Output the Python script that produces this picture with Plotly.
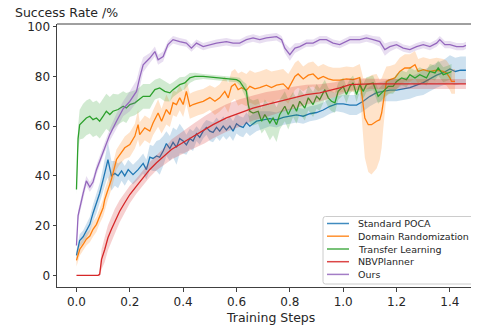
import plotly.graph_objects as go

# ---------------- data (x in units of 1e6 training steps) ----------------
series_names = ["Standard POCA", "Domain Randomization", "Transfer Learning", "NBVPlanner", "Ours"]
colors = ["#1f77b4", "#ff7f0e", "#2ca02c", "#d62728", "#9467bd"]
band_colors = ["rgba(31,119,180,0.22)", "rgba(255,127,14,0.22)", "rgba(44,160,44,0.22)",
               "rgba(214,39,40,0.22)", "rgba(148,103,189,0.22)"]

x_ticks = [0.0, 0.2, 0.4, 0.6, 0.8, 1.0, 1.2, 1.4]
x_tick_labels = ["0.0", "0.2", "0.4", "0.6", "0.8", "1.0", "1.2", "1.4"]
y_ticks = [0, 20, 40, 60, 80, 100]
y_tick_labels = ["0", "20", "40", "60", "80", "100"]

# Standard POCA
poca_x = [0.0, 0.012, 0.025, 0.037, 0.05, 0.062, 0.075, 0.087, 0.1, 0.112,
          0.118, 0.131, 0.144, 0.156, 0.169, 0.181, 0.194, 0.212, 0.231, 0.25,
          0.262, 0.275, 0.287, 0.3, 0.312, 0.325, 0.337, 0.35, 0.362, 0.375,
          0.387, 0.4, 0.412, 0.425, 0.437, 0.45, 0.462, 0.475, 0.487, 0.5,
          0.512, 0.525, 0.537, 0.55, 0.562, 0.575, 0.587, 0.6, 0.612, 0.625,
          0.637, 0.65, 0.675, 0.7, 0.725, 0.75, 0.775, 0.8, 0.825, 0.85,
          0.875, 0.9, 0.925, 0.95, 0.975, 1.0, 1.025, 1.05, 1.075, 1.1,
          1.125, 1.15, 1.175, 1.2, 1.225, 1.25, 1.275, 1.3, 1.325, 1.35,
          1.375, 1.4, 1.42, 1.44, 1.46]
poca_y = [8, 14, 15.5, 18, 20.5, 25, 29, 33, 38.5, 44,
          46.5, 40, 41, 40, 42, 40, 42.5, 40.5, 42.5, 45,
          42.5, 47.5, 47, 48, 47.5, 50, 53, 51, 53.5, 51.5,
          55, 54, 52.5, 55, 54, 57, 55.5, 58, 59.5, 58,
          57.5, 59.5, 58, 60, 58.5, 60, 58, 61, 60, 59.5,
          61.5, 60, 62, 62.5, 63, 62.5, 63.5, 64, 64.5, 64,
          65, 65.5, 66.5, 68, 69, 69, 68.5, 68.5, 70, 72,
          73.5, 74, 74.5, 74.5, 75, 75.5, 76.5, 77.5, 79, 80.5,
          81.5, 83, 82, 82.5, 82.5]
poca_s = [2, 2.5, 2.5, 3, 3, 3.5, 4, 4, 5, 6,
          7, 6, 5, 5, 4, 4, 4, 4, 4, 4,
          4, 5, 5, 6, 7, 6, 5, 5, 6, 7,
          6, 5, 4, 4, 4, 3, 3, 3, 3, 4,
          4, 4, 4, 4, 4, 4, 4, 4, 4, 4,
          4, 4, 4, 3.5, 3, 3, 3, 3, 3, 3,
          3, 3, 3, 3, 3, 3.5, 4, 4, 4, 4,
          4, 4, 4.5, 4.5, 4.5, 4.5, 4.5, 5, 5, 5,
          5, 5.5, 5.5, 5.5, 5.5]

# Domain Randomization
dr_x = [0.0, 0.0125, 0.025, 0.037, 0.05, 0.062, 0.075, 0.087, 0.1, 0.106,
        0.118, 0.131, 0.15, 0.162, 0.181, 0.2, 0.219, 0.231, 0.237, 0.256,
        0.275, 0.287, 0.306, 0.319, 0.337, 0.35, 0.362, 0.375, 0.387, 0.4,
        0.412, 0.425, 0.437, 0.456, 0.475, 0.5, 0.519, 0.537, 0.556, 0.569,
        0.581, 0.594, 0.606, 0.619, 0.637, 0.65, 0.669, 0.687, 0.712, 0.731,
        0.75, 0.775, 0.794, 0.819, 0.831, 0.85, 0.869, 0.887, 0.906, 0.925,
        0.944, 0.962, 0.987, 1.012, 1.037, 1.062, 1.069, 1.075, 1.081, 1.094,
        1.106, 1.125, 1.137, 1.144, 1.15, 1.156, 1.162, 1.175, 1.194, 1.212,
        1.231, 1.25, 1.269, 1.281, 1.3, 1.325, 1.35, 1.375, 1.387, 1.4,
        1.406, 1.419]
dr_y = [6, 10.5, 12.4, 14.5, 15.8, 18.5, 20.5, 23.8, 27.2, 30.5,
        34.5, 38.6, 46.6, 48.6, 51.3, 52.6, 56, 60.6, 56.6, 59.3,
        58, 61.3, 65.3, 62, 66.7, 64.7, 69.4, 68.7, 71.4, 68.7,
        74, 68, 68.7, 69.4, 70, 71.5, 70, 71.4, 74, 71.4,
        76, 77, 74.7, 75.5, 74.5, 76, 75, 75.5, 76.5, 75.5,
        76.5, 77, 75, 80, 81, 79, 80.5, 81, 79, 80,
        79, 78.5, 78.5, 79, 78.7, 79.5, 74, 67.3, 63.3, 60.6,
        60.6, 62, 62.6, 65.3, 70, 74.7, 78, 78.7, 79.4, 82,
        83.4, 83.4, 84.7, 82, 82.7, 82, 82.5, 82, 81.4, 79.4,
        78, 78]
dr_s = [2.5, 2.5, 2.5, 2.5, 2.5, 3, 3, 3, 3.5, 4,
        4, 4, 4, 4, 4.5, 5, 5, 6, 5, 5,
        5, 5, 5.5, 5, 6, 5, 5, 5, 5, 5,
        5, 5, 5, 5, 5, 5, 5.5, 5.5, 6, 6,
        6, 6, 6.5, 6.5, 6.5, 6.5, 6.5, 6.5, 6.5, 6.5,
        6, 6, 6, 5.5, 5.5, 5, 5, 5, 5, 5,
        5, 5, 5, 5, 5, 5.5, 8, 12, 16, 19,
        20, 19, 16, 14, 11, 8, 6, 5.5, 5.5, 5.5,
        5.5, 5.5, 5.5, 5, 5, 5, 5, 5, 5, 5,
        5, 5]

# Transfer Learning
tl_x = [0.0, 0.003, 0.006, 0.012, 0.025, 0.037, 0.05, 0.062, 0.075, 0.087,
        0.1, 0.112, 0.125, 0.137, 0.156, 0.175, 0.187, 0.2, 0.219, 0.237,
        0.25, 0.275, 0.294, 0.312, 0.331, 0.35, 0.362, 0.387, 0.406, 0.425,
        0.444, 0.475, 0.6, 0.612, 0.625, 0.637, 0.644, 0.65, 0.662, 0.681,
        0.694, 0.706, 0.725, 0.737, 0.75, 0.762, 0.781, 0.794, 0.812, 0.825,
        0.837, 0.856, 0.869, 0.887, 0.9, 0.912, 0.931, 0.944, 0.956, 0.969,
        0.981, 1.0, 1.012, 1.025, 1.037, 1.05, 1.062, 1.075, 1.087, 1.112,
        1.131, 1.15, 1.169, 1.187, 1.2, 1.219, 1.237, 1.25, 1.269, 1.287,
        1.312, 1.325, 1.344, 1.356, 1.375, 1.394, 1.406]
tl_y = [34.5, 45, 55, 60.6, 62, 63.3, 64, 62.6, 63.3, 62,
        64, 66, 64.7, 66, 66.7, 68, 67.3, 68.7, 69.4, 70.7,
        72, 72, 74.7, 75.4, 74, 73.4, 74.7, 76.7, 77.4, 79.4,
        80, 80, 78.7, 78, 76, 74, 68.7, 66, 65.3, 66,
        62, 64.7, 61.3, 63.3, 60.6, 64.7, 68, 64.7, 68.7, 66,
        70, 67.3, 71.4, 68.7, 72, 70.7, 74.7, 71.4, 70, 69.4,
        74, 76, 72.7, 76, 77.4, 72.7, 76.7, 74, 76.7, 77.4,
        72, 74, 76, 76, 78, 79.4, 78.7, 80.7, 79.4, 80.7,
        79.4, 82, 81.4, 83.4, 80.7, 81.4, 82]
tl_s = [2, 4, 5, 6, 7, 7, 7, 7, 7, 7,
        7, 7, 7, 7, 6, 6, 6, 5, 5, 5,
        5, 5, 4, 4, 4, 3.5, 3, 3, 2.5, 2,
        1.5, 1, 1, 1.5, 2, 3, 4, 5, 5, 5,
        5, 6, 7, 7, 7, 6, 6, 6, 5, 5,
        5, 5, 5, 5, 5, 4.5, 4, 4, 4, 4,
        3.5, 3.5, 3.5, 3, 3, 3, 3, 3, 3, 3,
        3, 3, 3, 3, 3, 3, 3, 3, 3, 3,
        3, 3, 3, 3, 3, 3, 3]

# NBVPlanner
nbv_x = [0.0, 0.081, 0.087, 0.094, 0.106, 0.118, 0.131, 0.144, 0.162, 0.181,
         0.2, 0.225, 0.25, 0.275, 0.3, 0.337, 0.356, 0.387, 0.437, 0.481,
         0.512, 0.562, 0.612, 0.662, 0.712, 0.762, 0.812, 0.862, 0.912, 0.969,
         0.987, 1.025, 1.1, 1.2, 1.3, 1.4, 1.46]
nbv_y = [0, 0, 0.4, 6.4, 10.4, 15.1, 18.5, 21.8, 25.8, 29.2,
         32.5, 35.9, 39.2, 42.6, 45.3, 48.6, 50.6, 52.6, 55.9, 58.6,
         60.6, 63.3, 65.3, 67.3, 68.7, 70, 71.4, 72.7, 73.4, 74.7,
         75.4, 76.7, 77, 77, 77, 77, 77]
nbv_s = [0, 0, 1, 4, 5, 5, 5, 5, 4.5, 4,
         3.5, 3, 3, 3, 3, 3.5, 4, 4.5, 5, 5.5,
         5.5, 5.5, 5.5, 5, 5, 4.5, 4.5, 4, 3.5, 3,
         3, 2.5, 2, 2, 2, 2, 2]

# Ours
ours_x = [0.0, 0.006, 0.025, 0.037, 0.05, 0.062, 0.075, 0.087, 0.1, 0.125,
          0.15, 0.175, 0.2, 0.225, 0.237, 0.25, 0.275, 0.294, 0.306, 0.325,
          0.343, 0.362, 0.387, 0.412, 0.431, 0.45, 0.475, 0.5, 0.525, 0.562,
          0.587, 0.612, 0.637, 0.662, 0.687, 0.712, 0.75, 0.769, 0.781, 0.8,
          0.819, 0.837, 0.862, 0.887, 0.912, 0.937, 0.962, 0.987, 1.025, 1.062,
          1.087, 1.112, 1.137, 1.156, 1.175, 1.2, 1.225, 1.25, 1.275, 1.3,
          1.325, 1.35, 1.362, 1.381, 1.4, 1.425, 1.45, 1.46]
ours_y = [12, 24, 33, 38, 35.5, 37.5, 42.5, 46, 50, 56.6,
          62, 67, 70, 74, 79.5, 84.7, 87.4, 90, 86.7, 88,
          92.8, 94.8, 94, 93.4, 91.4, 93.4, 92, 92.8, 93.4, 94,
          93.4, 93.4, 94.8, 95.5, 94.8, 95.5, 96, 94.8, 91.4, 88.8,
          91.4, 92, 93.4, 93.4, 94.8, 94.8, 93.4, 92.8, 94.8, 94.8,
          95.5, 94.8, 94, 90.8, 92, 92.8, 91.4, 90.8, 92, 92.8,
          92, 93.4, 94.8, 92.8, 92.8, 92, 92, 92.5]
ours_s = [1, 2, 2, 2, 2, 2, 2, 2, 2, 2.5,
          3, 3, 4, 4.5, 4, 3, 2, 2, 2, 2,
          1.5, 1.5, 1.5, 1.5, 1.5, 1.5, 1.5, 1.5, 1.5, 1.5,
          1.5, 1.5, 1.5, 1.5, 1.5, 1.5, 1.5, 1.5, 2, 2.5,
          2, 1.5, 1.5, 1.5, 1.5, 1.5, 1.5, 1.5, 1.5, 1.5,
          1.5, 1.5, 2, 2.5, 2, 1.5, 1.5, 1.5, 1.5, 1.5,
          1.5, 1.5, 1.5, 1.5, 1.5, 1.5, 1.5, 1.5]

series = [(poca_x, poca_y, poca_s), (dr_x, dr_y, dr_s), (tl_x, tl_y, tl_s),
          (nbv_x, nbv_y, nbv_s), (ours_x, ours_y, ours_s)]
for sx, sy, ss in series:
    assert len(sx) == len(sy) == len(ss), (len(sx), len(sy), len(ss))

# ---------------- figure ----------------
FONT = "DejaVu Sans"
AXC = "#404040"
TXT = "#262626"

fig = go.Figure()
for (sx, sy, ss), name, col, bcol in zip(series, series_names, colors, band_colors):
    upper = [v + s for v, s in zip(sy, ss)]
    lower = [v - s for v, s in zip(sy, ss)]
    fig.add_trace(go.Scatter(x=sx + sx[::-1], y=upper + lower[::-1], fill="toself",
                             fillcolor=bcol, line=dict(width=0), mode="lines",
                             hoverinfo="skip", showlegend=False))
    fig.add_trace(go.Scatter(x=sx, y=sy, mode="lines", name=name,
                             line=dict(color=col, width=1.3), showlegend=False))

# the page body adds an 8 px offset; the figure is sized so that the result
# lines up with the 479x326 window
OFF = 8
W, H = 479 - OFF, 326 - OFF
ML, MT = 57 - OFF, 24 - OFF
MB = H - (287 - OFF)
MR = 0
PW, PH = W - ML - MR, H - MT - MB

def px(xw):
    """window x pixel -> paper coordinate"""
    return (xw - OFF - ML) / PW

def py(yw):
    """window y pixel -> paper coordinate"""
    return (H - MB - (yw - OFF)) / PH

shapes = [dict(type="line", xref="paper", yref="paper", x0=0, x1=1, y0=1, y1=1,
               line=dict(color=AXC, width=1))]

# legend box (rounded)
bx0, bx1, by0, by1 = 323, 484, 284, 216.5
r = 2.5
path = (f"M {px(bx0 + r)} {py(by1)} L {px(bx1 - r)} {py(by1)} "
        f"Q {px(bx1)} {py(by1)} {px(bx1)} {py(by1 + r)} "
        f"L {px(bx1)} {py(by0 - r)} Q {px(bx1)} {py(by0)} {px(bx1 - r)} {py(by0)} "
        f"L {px(bx0 + r)} {py(by0)} Q {px(bx0)} {py(by0)} {px(bx0)} {py(by0 - r)} "
        f"L {px(bx0)} {py(by1 + r)} Q {px(bx0)} {py(by1)} {px(bx0 + r)} {py(by1)} Z")
shapes.append(dict(type="path", xref="paper", yref="paper", path=path,
                   fillcolor="rgba(255,255,255,0.8)", line=dict(color="#cccccc", width=1)))

annotations = []
entry_y = [223.5, 236.2, 249.0, 261.7, 274.4]
for name, col, ey in zip(series_names, colors, entry_y):
    shapes.append(dict(type="line", xref="paper", yref="paper", x0=px(327), x1=px(349),
                       y0=py(ey), y1=py(ey), line=dict(color=col, width=1.5), opacity=0.85))
    annotations.append(dict(xref="paper", yref="paper", x=px(355.5), y=py(ey), text=name,
                            showarrow=False, xanchor="left", yanchor="middle",
                            font=dict(family=FONT, size=9.5, color=TXT)))

annotations.append(dict(xref="paper", yref="paper", x=px(13), y=py(12.5), text="Success Rate /%",
                        showarrow=False, xanchor="left", yanchor="middle",
                        font=dict(family=FONT, size=12.5, color=TXT)))
annotations.append(dict(xref="paper", yref="paper", x=px(270), y=py(317.5), text="Training Steps",
                        showarrow=False, xanchor="center", yanchor="middle",
                        font=dict(family=FONT, size=12.5, color=TXT)))
annotations.append(dict(xref="paper", yref="paper", x=px(469.5), y=py(310), text="1e6",
                        showarrow=False, xanchor="left", yanchor="middle",
                        font=dict(family=FONT, size=8.5, color=TXT)))

axis_common = dict(showline=True, linecolor=AXC, linewidth=1, ticks="outside", ticklen=3.5,
                   tickwidth=1, tickcolor=AXC, showgrid=False, zeroline=False,
                   tickfont=dict(family=FONT, size=12, color=TXT))

fig.update_layout(
    width=W, height=H,
    margin=dict(l=ML, r=MR, t=MT, b=MB, pad=0),
    paper_bgcolor="white", plot_bgcolor="white",
    xaxis=dict(range=[-0.073, 1.509], tickvals=x_ticks, ticktext=x_tick_labels, **axis_common),
    yaxis=dict(range=[-4.7, 101.1], tickvals=y_ticks, ticktext=y_tick_labels, **axis_common),
    shapes=shapes, annotations=annotations, showlegend=False,
)

fig.write_html("out.html")
